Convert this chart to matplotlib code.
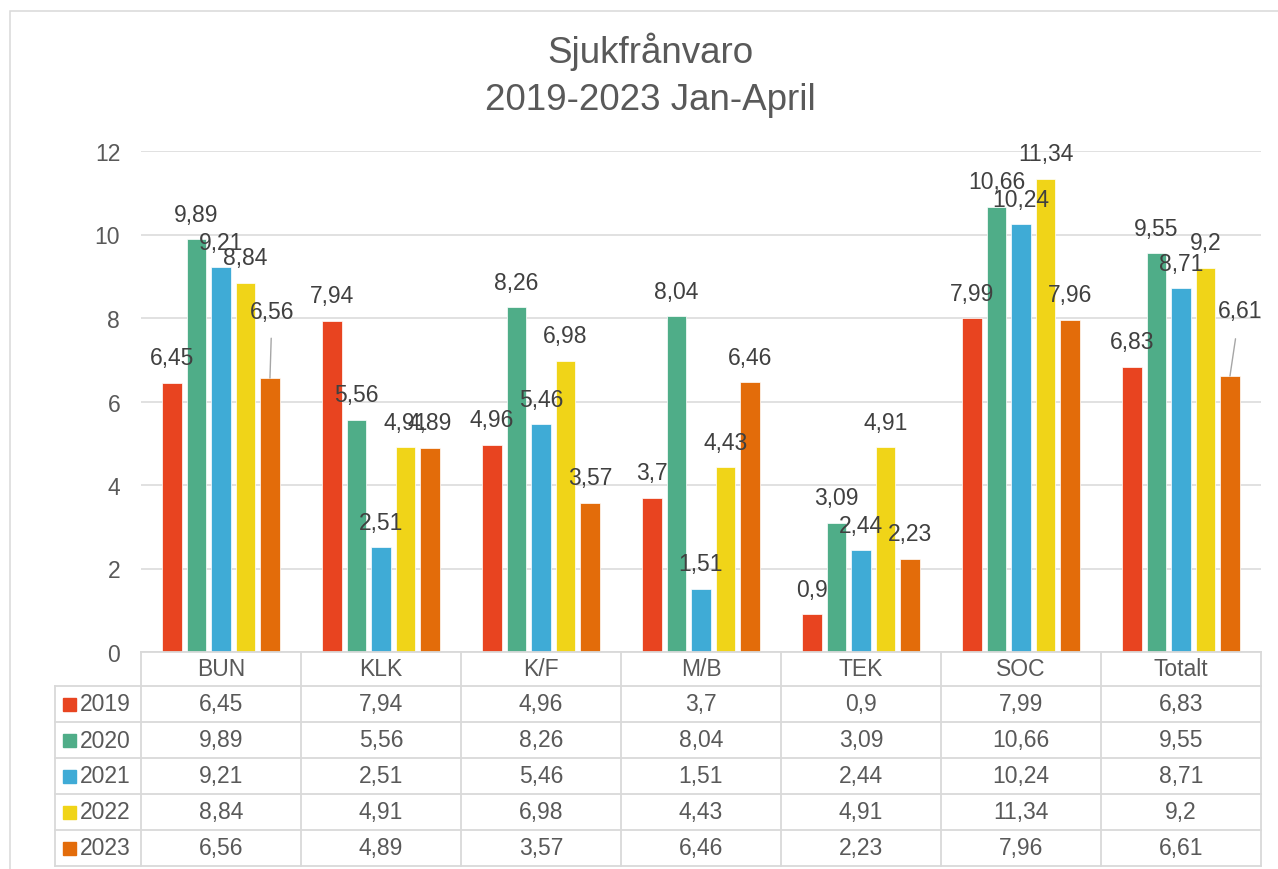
import numpy as np
import matplotlib
matplotlib.use("Agg")
from matplotlib import pyplot as plt
from matplotlib.patches import Rectangle
from matplotlib.lines import Line2D

plt.rcParams["font.family"] = ["Liberation Sans", "DejaVu Sans"]

categories = ["BUN", "KLK", "K/F", "M/B", "TEK", "SOC", "Totalt"]
years = ["2019", "2020", "2021", "2022", "2023"]
v2019 = [6.45, 7.94, 4.96, 3.7, 0.9, 7.99, 6.83]
v2020 = [9.89, 5.56, 8.26, 8.04, 3.09, 10.66, 9.55]
v2021 = [9.21, 2.51, 5.46, 1.51, 2.44, 10.24, 8.71]
v2022 = [8.84, 4.91, 6.98, 4.43, 4.91, 11.34, 9.2]
v2023 = [6.56, 4.89, 3.57, 6.46, 2.23, 7.96, 6.61]
series = [v2019, v2020, v2021, v2022, v2023]
colors = ["#E84420", "#4FAD88", "#3FABD6", "#F0D418", "#E36C0A"]

W, H = 1278, 870
TXT = "#595959"
LBL = "#404040"
GRID = "#D9D9D9"


def fx(x):
    return x / W


def fy(y):
    return 1 - y / H


def fmt(v):
    return ("%g" % v).replace(".", ",")


fig = plt.figure(figsize=(W / 100, H / 100), dpi=100)

# outer chart border
fig.patches.append(Rectangle((fx(10), fy(2000)), fx(2000), fy(12) - fy(2000),
                             transform=fig.transFigure, fill=False,
                             edgecolor=GRID, linewidth=1.1))

ax = fig.add_axes([fx(141), fy(653), fx(1261) - fx(141), fy(152) - fy(653)])
n = len(categories)
x = np.arange(n)
step, bw = 0.153, 0.122
for j, vals in enumerate(series):
    xs = x + (j - 2) * step
    ax.bar(xs, vals, bw, color=colors[j], edgecolor="white", linewidth=0.5, zorder=3)
    for i, v in enumerate(vals):
        if j == 4 and categories[i] == "BUN":
            ax.annotate(fmt(v), (xs[i], v), xytext=(1.5, 48), textcoords="offset points",
                        ha="center", va="center", fontsize=16.5, color=LBL,
                        arrowprops=dict(arrowstyle="-", color="#A6A6A6", lw=1,
                                        shrinkA=9, shrinkB=0))
        elif j == 4 and categories[i] == "Totalt":
            ax.annotate(fmt(v), (xs[i], v), xytext=(7, 47), textcoords="offset points",
                        ha="center", va="center", fontsize=16.5, color=LBL,
                        arrowprops=dict(arrowstyle="-", color="#A6A6A6", lw=1,
                                        shrinkA=10, shrinkB=0))
        else:
            ax.annotate(fmt(v), (xs[i], v), xytext=(0, 18), textcoords="offset points",
                        ha="center", va="center", fontsize=16.5, color=LBL, zorder=4)

ax.set_xlim(-0.5, n - 0.5)
ax.set_ylim(0, 12)
ax.set_yticks(range(0, 13, 2))
ax.set_yticklabels([str(t) for t in range(0, 13, 2)])
ax.set_xticks([])
ax.tick_params(axis="y", length=0, pad=15, labelsize=16.5, labelcolor=TXT)
ax.grid(axis="y", color=GRID, linewidth=1.1, zorder=0)
for s in ax.spines.values():
    s.set_visible(False)

# data table under the plot
col_left = 141
col_w = 160
row_top = 653
head_h = 34
row_h = 36
tab_bottom = row_top + head_h + row_h * len(years)
lines = []
# horizontal lines
lines.append(((col_left, col_left + col_w * n), (row_top, row_top)))
for r in range(len(years) + 1):
    yy = row_top + head_h + r * row_h
    lines.append(((55, col_left + col_w * n), (yy, yy)))
# vertical lines
for c in range(n + 1):
    xx = col_left + c * col_w
    lines.append(((xx, xx), (row_top, tab_bottom)))
lines.append(((55, 55), (row_top + head_h, tab_bottom)))
for xs_, ys_ in lines:
    fig.add_artist(Line2D([fx(p) for p in xs_], [fy(p) for p in ys_],
                          color=GRID, linewidth=1.3, transform=fig.transFigure))

for c, cat in enumerate(categories):
    fig.text(fx(col_left + c * col_w + col_w / 2), fy(row_top + head_h / 2), cat,
             ha="center", va="center", fontsize=16.5, color=TXT)

for r, yr in enumerate(years):
    yc = row_top + head_h + r * row_h + row_h / 2
    fig.patches.append(Rectangle((fx(63), fy(yc + 6.5)), fx(13), fy(yc - 6.5) - fy(yc + 6.5),
                                 transform=fig.transFigure, color=colors[r]))
    fig.text(fx(80), fy(yc), yr, ha="left", va="center", fontsize=16.5, color=TXT)
    for c, v in enumerate(series[r]):
        fig.text(fx(col_left + c * col_w + col_w / 2), fy(yc), fmt(v),
                 ha="center", va="center", fontsize=16.5, color=TXT)

# title
fig.text(fx(650), fy(52), "Sjukfrånvaro", ha="center", va="center", fontsize=26.5, color=TXT)
fig.text(fx(650), fy(100), "2019-2023 Jan-April", ha="center", va="center", fontsize=26.5, color=TXT)

fig.savefig("out.png", dpi=100)
